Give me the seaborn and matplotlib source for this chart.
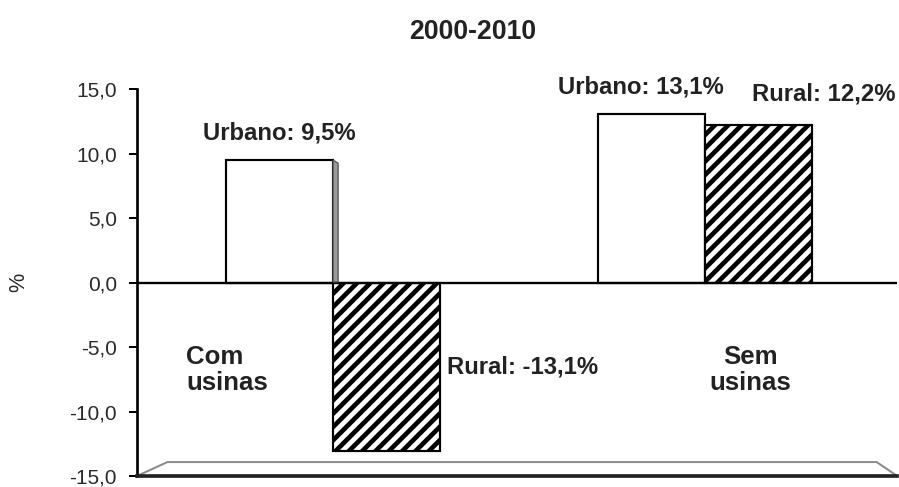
import matplotlib
matplotlib.use("Agg")
import matplotlib.pyplot as plt
from matplotlib.patches import Polygon
from matplotlib.ticker import FuncFormatter
import seaborn as sns
import pandas as pd

# Population growth 2000-2010 by area, municipalities with / without plants
grupos = ["Com usinas", "Sem usinas"]
grupos_texto = ["Com\nusinas", "Sem\nusinas"]
urbano = [9.5, 13.1]
rural = [-13.1, 12.2]
zonas = ["Urbano", "Rural"]
yticks = [-15, -10, -5, 0, 5, 10, 15]

df = pd.DataFrame({
    "grupo": grupos * 2,
    "zona": ["Urbano"] * len(grupos) + ["Rural"] * len(grupos),
    "valor": urbano + rural,
})

sns.set_theme(style="white")
plt.rcParams["font.family"] = ["Liberation Sans", "DejaVu Sans"]
plt.rcParams["hatch.linewidth"] = 2.8
plt.rcParams["hatch.color"] = "black"

DPI = 120
fig = plt.figure(figsize=(899 / DPI, 487 / DPI), dpi=DPI)
ax = fig.add_axes([0.1524, 0.0226, 0.8456, 0.7944])

sns.barplot(data=df, x="grupo", y="valor", hue="zona", hue_order=zonas,
            palette=["white", "white"], edgecolor="black", linewidth=1.3,
            width=0.575, legend=False, ax=ax, saturation=1)

# hatch the rural bars
for p in ax.containers[1]:
    p.set_hatch("///")
    p.set_edgecolor("black")

ax.set_ylim(yticks[0], yticks[-1])
ax.set_xlim(-0.527, 1.516)
ax.set_yticks(yticks)
ax.yaxis.set_major_formatter(FuncFormatter(lambda v, _: f"{v:.1f}".replace(".", ",")))
ax.tick_params(axis="y", left=True, length=5, width=1.2, color="black",
               labelsize=12.5, labelcolor="#2a2a2a", pad=7)
ax.tick_params(axis="x", bottom=False, labelbottom=False)
ax.set_xlabel("")
ax.set_ylabel("%", fontsize=13, color="#2a2a2a")
ax.yaxis.set_label_coords(-0.142, 0.5)

for side in ["top", "right"]:
    ax.spines[side].set_visible(False)
ax.spines["left"].set_color("black")
ax.spines["left"].set_linewidth(1.6)
ax.spines["bottom"].set_color("#222222")
ax.spines["bottom"].set_linewidth(2.2)
ax.axhline(0, color="black", lw=1.4, zorder=1)

# floor of the pseudo-3D plot area
floor = Polygon([(0, 0), (1, 0), (0.973, 0.036), (0.04, 0.036)], closed=True,
                transform=ax.transAxes, facecolor="white", edgecolor="#8a8a8a",
                lw=1.2, zorder=0.5, clip_on=False)
ax.add_patch(floor)

# shaded side face of the first urban bar
p0 = ax.containers[0][0]
x1 = p0.get_x() + p0.get_width()
h = p0.get_height()
dx = 5 / (ax.transData.transform((1, 0))[0] - ax.transData.transform((0, 0))[0])
ax.add_patch(Polygon([(x1, 0.05), (x1, h), (x1 + dx, h - 0.25), (x1 + dx, 0.05)],
                     closed=True, facecolor="#9a9a9a", edgecolor="#555555",
                     lw=0.8, zorder=3))

lab_kw = dict(fontsize=14.3, fontweight="bold", color="#222222")

def fmt(v):
    return f"{v:.1f}".replace(".", ",") + "%"

# urban labels above the bars
for p, v, dxp in zip(ax.containers[0], urbano, [0, -6.5]):
    cx = p.get_x() + p.get_width() / 2
    ax.annotate(f"Urbano: {fmt(v)}", xy=(cx, v), xytext=(dxp, 16),
                textcoords="offset points", ha="center", va="center", **lab_kw)

# rural labels
rp = ax.containers[1]
ax.annotate(f"Rural: {fmt(rural[0])}",
            xy=(rp[0].get_x() + rp[0].get_width(), rural[0] / 2),
            xytext=(4, 0), textcoords="offset points", ha="left", va="center", **lab_kw)
ax.annotate(f"Rural: {fmt(rural[1])}",
            xy=(rp[1].get_x() + rp[1].get_width() / 2, rural[1]),
            xytext=(39, 18.5), textcoords="offset points", ha="center", va="center", **lab_kw)

# group names inside the plot area
ax.annotate(grupos_texto[0], xy=(0, -6.8), xytext=(-88, 0), textcoords="offset points",
            ha="left", va="center", fontsize=15.5, fontweight="bold", color="#222222",
            linespacing=1.1)
ax.annotate(grupos_texto[1], xy=(1, -6.8), xytext=(27, 0), textcoords="offset points",
            ha="center", va="center", fontsize=15.5, fontweight="bold", color="#222222",
            linespacing=1.1)

fig.text(0.526, 0.934, "2000-2010", ha="center", va="center", fontsize=16,
         fontweight="bold", color="#222222")

fig.savefig("out.png", dpi=DPI)
